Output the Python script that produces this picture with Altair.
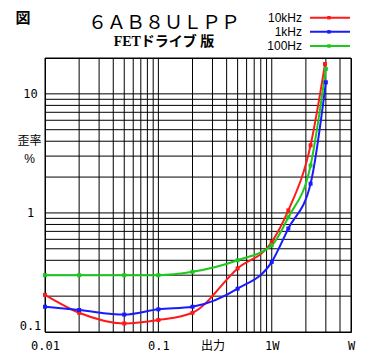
import json
import altair as alt
import pandas as pd

# ---- data ----
series = ["10kHz", "1kHz", "100Hz"]
colors = ["#ff1a1a", "#1a1aff", "#1ec81e"]

power_10k = [0.01, 0.02, 0.05, 0.1, 0.2, 0.5, 1.0, 1.4, 2.2, 2.95]
thd_10k = [0.205, 0.145, 0.118, 0.126, 0.145, 0.342, 0.57, 1.05, 3.7, 17.8]

power_1k = [0.01, 0.02, 0.05, 0.1, 0.2, 0.5, 1.0, 1.4, 2.2, 3.0]
thd_1k = [0.163, 0.153, 0.140, 0.155, 0.163, 0.231, 0.388, 0.74, 1.76, 12.5]

power_100 = [0.01, 0.02, 0.05, 0.1, 0.2, 0.5, 1.0, 1.4, 2.2, 3.0]
thd_100 = [0.30, 0.30, 0.30, 0.30, 0.32, 0.40, 0.535, 0.92, 2.5, 16.2]

x_grid = [0.01, 0.02, 0.03, 0.04, 0.05, 0.06, 0.07, 0.08, 0.09,
          0.1, 0.2, 0.3, 0.4, 0.5, 0.6, 0.7, 0.8, 0.9,
          1, 2, 3, 4, 5]
y_grid = [0.1, 0.2, 0.3, 0.4, 0.5, 0.6, 0.7, 0.8, 0.9,
          1, 2, 3, 4, 5, 6, 7, 8, 9,
          10, 20]

x_ticks = [0.01, 0.1, 0.3, 1, 5]
x_tick_labels = ["0.01", "0.1", "出力", "1W", "W"]
y_ticks = [0.1, 1, 10]
y_tick_labels = ["0.1", "1", "10"]

title_main = "６ＡＢ８ＵＬＰＰ"
title_sub = "FETドライブ 版"
corner_mark = "図"
y_title = ["歪率", "%"]

# ---- tables ----
rows = []
for name, xs, ys in zip(series, [power_10k, power_1k, power_100], [thd_10k, thd_1k, thd_100]):
    for p, t in zip(xs, ys):
        rows.append({"series": name, "power": p, "thd": t})
df = pd.DataFrame(rows)
legend_df = pd.DataFrame({"series": series})

MONO = "DejaVu Sans Mono, Noto Sans CJK JP"
SANS = "Liberation Sans, Noto Sans CJK JP"

xscale = alt.Scale(type="log", domain=[0.01, 5], nice=False)
yscale = alt.Scale(type="log", domain=[0.1, 20], nice=False)
cscale = alt.Scale(domain=series, range=colors)

x_label_expr = f"{json.dumps(x_tick_labels, ensure_ascii=False)}[indexof({json.dumps(x_ticks)}, datum.value)]"
y_label_expr = f"{json.dumps(y_tick_labels)}[indexof({json.dumps(y_ticks)}, datum.value)]"

x_axis = alt.Axis(values=x_ticks, labelExpr=x_label_expr, grid=False, ticks=False, domain=False,
                  labelFlush=False, labelBaseline="middle", labelPadding=13, labelFont=MONO,
                  labelFontSize=12, labelColor="black", title=None, labelOverlap=False)
y_axis = alt.Axis(values=y_ticks, labelExpr=y_label_expr, grid=False, ticks=False, domain=False,
                  labelAlign="center", labelPadding=15, labelFont=MONO, labelFontSize=12,
                  labelColor="black",
                  labelBaseline={"condition": {"test": "datum.value < 0.5", "value": "bottom"}, "value": "middle"},
                  title=y_title, titleAngle=0, titleAlign="center", titleBaseline="middle",
                  titleX=-16, titleY=82, titleLineHeight=18, titleFont=SANS, titleFontSize=12,
                  titleFontWeight="normal", titleColor="black", labelOverlap=False)

vgrid = alt.Chart(pd.DataFrame({"gx": x_grid})).mark_rule(color="black", strokeWidth=1).encode(
    x=alt.X("gx:Q", scale=xscale, axis=x_axis))
hgrid = alt.Chart(pd.DataFrame({"gy": y_grid})).mark_rule(color="black", strokeWidth=1).encode(
    y=alt.Y("gy:Q", scale=yscale, axis=y_axis))

lines = alt.Chart(df).mark_line(
    interpolate="monotone", strokeWidth=2,
    point=alt.OverlayMarkDef(shape="square", size=16, filled=True, opacity=1),
).encode(
    x=alt.X("power:Q", scale=xscale, axis=x_axis),
    y=alt.Y("thd:Q", scale=yscale, axis=y_axis),
    color=alt.Color("series:N", scale=cscale, legend=None),
    detail="series:N",
)

corner = alt.Chart(pd.DataFrame({"t": [corner_mark]})).mark_text(
    font="Noto Sans CJK JP", fontSize=15, fontWeight="bold", color="black",
    align="center", baseline="middle").encode(
    x=alt.value(-22), y=alt.value(-40), text="t:N")

main = alt.layer(vgrid, hgrid, lines, corner)

# ---- hand-made legend (labels left of line+square symbol) ----
ly = alt.Y("series:N", scale=alt.Scale(type="point", domain=series, range=[-40.3, -12], padding=0),
           axis=None)
leg_line = alt.Chart(legend_df).mark_rule(strokeWidth=2).encode(
    x=alt.value(265), x2=alt.value(305), y=ly,
    color=alt.Color("series:N", scale=cscale, legend=None))
leg_pt = alt.Chart(legend_df).mark_point(shape="square", size=12, filled=True, opacity=1).encode(
    x=alt.value(284), y=ly, color=alt.Color("series:N", scale=cscale, legend=None))
leg_txt = alt.Chart(legend_df).mark_text(align="right", baseline="middle", font=SANS,
                                         fontSize=12, color="black").encode(
    x=alt.value(257), y=ly, text="series:N")
legend = alt.layer(leg_line, leg_pt, leg_txt)

chart = alt.layer(main, legend).resolve_scale(y="independent").properties(
    width=306, height=274,
    autosize=alt.AutoSizeParams(type="none"),
    padding={"left": 37, "top": 50, "right": 11, "bottom": 20},
    background="white",
    title=alt.TitleParams(text=title_main, subtitle=title_sub, anchor="middle", frame="group",
                          font="Noto Sans CJK JP", fontSize=19, fontWeight="normal", color="black",
                          subtitleFont="Liberation Serif, Noto Sans CJK JP", subtitleFontSize=14,
                          subtitleFontWeight="bold", subtitleColor="black", subtitlePadding=2,
                          dx=-34, dy=38, offset=0),
).configure_view(stroke="black", strokeWidth=1)

chart.save("out.html", embed_options={"renderer": "svg", "actions": False})
